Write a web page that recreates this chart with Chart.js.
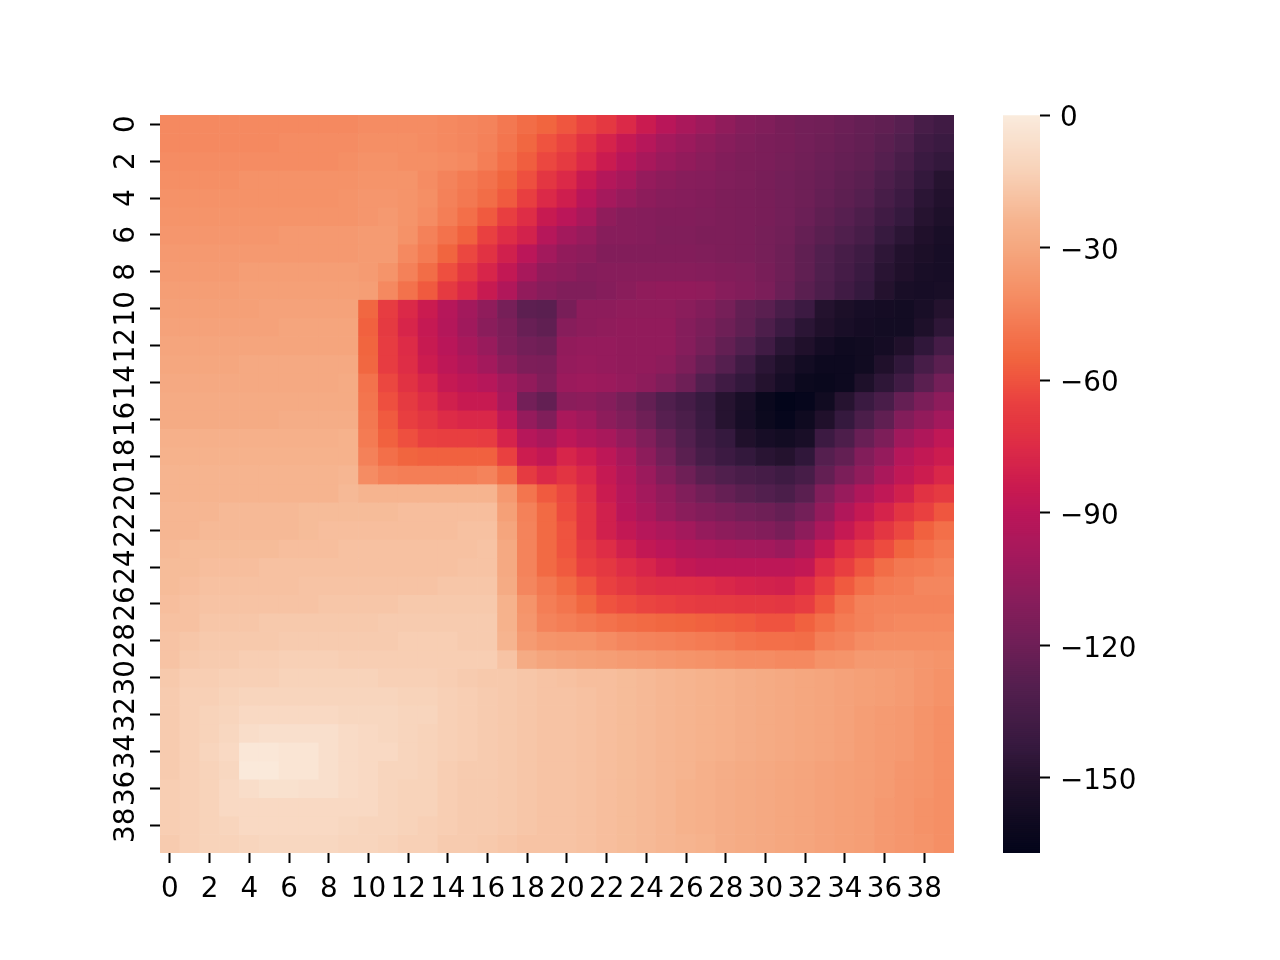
<!DOCTYPE html>
<html>
<head>
<meta charset="utf-8">
<title>Heatmap</title>
<script src="https://cdn.jsdelivr.net/npm/chart.js@4"></script>
<style>
    html, body { margin: 0; padding: 0; background: #fff; }
    #wrap { position: relative; width: 1280px; height: 960px; }
    #wrap canvas { position: absolute; left: 0; top: 0; }
</style>
</head>
<body>
<div id="wrap">
    <canvas id="heatCanvas" width="1280" height="960"></canvas>
    <canvas id="barCanvas" width="1280" height="960"></canvas>
</div>
<script>
// cell values, one row per y label, top row first
const xLabels = ['0','1','2','3','4','5','6','7','8','9','10','11','12','13','14','15','16','17','18','19','20','21','22','23','24','25','26','27','28','29','30','31','32','33','34','35','36','37','38','39'];
const xTickLabels = ['0','2','4','6','8','10','12','14','16','18','20','22','24','26','28','30','32','34','36','38'];
const yTickLabels = [0,2,4,6,8,10,12,14,16,18,20,22,24,26,28,30,32,34,36,38];
const colorTicks = [0,-30,-60,-90,-120,-150];
const valueMin = -167;
const valueMax = 0;
const heatRows = [
    [-42,-42,-42,-42,-42,-42,-42,-42,-42,-42,-41,-41,-41,-41,-42,-43,-44,-48,-52,-55,-59,-64,-69,-76,-84,-91,-97,-102,-107,-111,-113,-116,-118,-119,-121,-123,-125,-128,-135,-138],
    [-42,-42,-42,-42,-42,-42,-41,-41,-41,-41,-40,-40,-40,-41,-42,-43,-45,-49,-54,-60,-64,-72,-79,-86,-92,-99,-103,-107,-110,-113,-115,-116,-118,-120,-122,-124,-127,-131,-138,-141],
    [-41,-41,-41,-41,-41,-41,-41,-41,-41,-40,-39,-39,-40,-40,-41,-42,-46,-51,-57,-63,-68,-76,-84,-91,-98,-103,-106,-109,-112,-114,-115,-117,-119,-121,-123,-125,-129,-134,-141,-144],
    [-40,-40,-40,-40,-39,-39,-39,-39,-39,-39,-38,-38,-38,-41,-44,-47,-50,-55,-61,-70,-76,-85,-93,-98,-105,-108,-110,-111,-113,-114,-116,-118,-120,-122,-125,-127,-132,-137,-144,-149],
    [-39,-39,-39,-39,-39,-39,-39,-39,-39,-38,-37,-37,-38,-40,-45,-48,-52,-58,-66,-76,-82,-91,-99,-104,-108,-110,-111,-112,-114,-115,-116,-118,-120,-123,-126,-129,-135,-140,-147,-151],
    [-38,-38,-38,-38,-38,-38,-38,-38,-38,-38,-37,-36,-38,-41,-46,-51,-58,-66,-74,-85,-90,-97,-107,-110,-111,-112,-112,-113,-114,-115,-116,-118,-121,-125,-128,-132,-138,-143,-149,-153],
    [-37,-37,-37,-37,-37,-37,-36,-36,-36,-36,-35,-35,-39,-45,-50,-56,-65,-74,-80,-92,-100,-104,-110,-110,-111,-113,-113,-114,-114,-115,-117,-119,-123,-127,-131,-135,-142,-147,-152,-155],
    [-36,-36,-36,-36,-36,-36,-36,-36,-36,-36,-35,-35,-42,-47,-55,-63,-72,-81,-90,-100,-106,-108,-112,-112,-112,-112,-112,-113,-114,-115,-117,-120,-125,-130,-135,-139,-146,-151,-154,-156],
    [-35,-35,-35,-35,-34,-34,-34,-34,-34,-34,-35,-38,-45,-52,-61,-69,-78,-87,-98,-106,-108,-111,-110,-110,-110,-110,-110,-111,-112,-113,-116,-120,-125,-131,-136,-141,-148,-152,-155,-156],
    [-34,-34,-34,-34,-33,-33,-33,-33,-33,-33,-34,-42,-50,-58,-68,-76,-85,-94,-106,-110,-113,-113,-111,-109,-107,-106,-106,-107,-110,-112,-115,-121,-127,-132,-138,-143,-150,-155,-156,-155],
    [-33,-33,-33,-33,-33,-32,-32,-32,-32,-32,-54,-67,-76,-84,-92,-100,-107,-117,-126,-127,-116,-108,-108,-107,-107,-107,-109,-112,-117,-124,-127,-134,-140,-150,-154,-156,-157,-158,-155,-150],
    [-32,-32,-32,-32,-32,-32,-31,-31,-31,-31,-56,-68,-78,-86,-93,-101,-109,-114,-122,-125,-110,-108,-107,-106,-106,-106,-111,-115,-120,-125,-132,-140,-147,-152,-155,-157,-158,-158,-153,-146],
    [-31,-31,-31,-31,-31,-31,-31,-31,-31,-31,-55,-67,-75,-85,-91,-98,-104,-113,-118,-120,-106,-105,-105,-106,-106,-106,-111,-117,-124,-130,-138,-147,-152,-157,-160,-159,-157,-152,-145,-136],
    [-30,-30,-30,-30,-29,-29,-29,-29,-29,-29,-54,-67,-74,-83,-89,-94,-100,-108,-114,-115,-105,-104,-105,-106,-106,-108,-114,-122,-129,-138,-147,-153,-158,-161,-161,-159,-152,-145,-135,-127],
    [-29,-29,-29,-29,-29,-29,-29,-29,-29,-28,-50,-63,-72,-78,-86,-89,-92,-100,-106,-113,-103,-102,-103,-105,-108,-113,-120,-130,-138,-144,-150,-156,-162,-163,-161,-153,-146,-138,-127,-118],
    [-28,-28,-28,-28,-28,-28,-28,-28,-28,-28,-49,-61,-68,-74,-81,-85,-85,-97,-118,-124,-109,-108,-111,-117,-124,-131,-136,-142,-149,-155,-163,-167,-165,-159,-149,-141,-134,-123,-115,-108],
    [-28,-28,-28,-28,-28,-28,-27,-27,-27,-27,-48,-58,-66,-70,-75,-77,-77,-88,-105,-113,-97,-101,-108,-113,-120,-128,-133,-141,-149,-156,-162,-165,-160,-152,-143,-133,-125,-112,-106,-100],
    [-26,-26,-26,-26,-26,-26,-26,-26,-26,-25,-47,-56,-61,-65,-66,-66,-67,-79,-92,-97,-89,-94,-98,-105,-113,-122,-130,-138,-143,-152,-156,-158,-155,-140,-132,-122,-114,-101,-95,-88],
    [-25,-25,-25,-25,-25,-25,-25,-25,-25,-25,-45,-51,-55,-56,-56,-56,-56,-65,-83,-87,-78,-83,-89,-98,-108,-118,-127,-135,-140,-144,-148,-150,-145,-129,-124,-112,-105,-92,-87,-83],
    [-24,-24,-24,-24,-24,-24,-24,-24,-24,-23,-41,-45,-46,-46,-46,-46,-44,-52,-68,-76,-71,-77,-86,-94,-103,-112,-120,-127,-131,-134,-136,-139,-135,-124,-115,-107,-97,-88,-83,-77],
    [-24,-24,-24,-24,-24,-24,-24,-24,-24,-22,-24,-24,-24,-24,-24,-24,-24,-36,-49,-58,-63,-73,-84,-92,-100,-106,-113,-119,-123,-127,-130,-133,-127,-113,-104,-95,-88,-81,-72,-68],
    [-23,-23,-23,-22,-22,-22,-22,-21,-21,-21,-21,-21,-20,-20,-20,-20,-20,-33,-45,-53,-62,-71,-81,-91,-97,-104,-109,-112,-115,-118,-120,-123,-118,-106,-94,-86,-79,-71,-65,-59],
    [-23,-23,-22,-22,-22,-22,-22,-21,-20,-20,-20,-20,-20,-20,-20,-19,-19,-31,-44,-53,-60,-71,-81,-87,-92,-96,-100,-105,-108,-110,-112,-116,-108,-97,-86,-78,-70,-63,-56,-51],
    [-22,-21,-21,-21,-21,-21,-20,-20,-20,-19,-19,-19,-19,-19,-19,-19,-18,-29,-44,-53,-60,-68,-74,-81,-87,-90,-94,-96,-98,-99,-100,-103,-96,-85,-75,-68,-62,-55,-51,-48],
    [-21,-21,-20,-20,-20,-19,-19,-19,-19,-19,-19,-19,-19,-19,-19,-18,-18,-29,-44,-53,-58,-65,-69,-74,-78,-83,-87,-89,-89,-89,-89,-89,-87,-74,-66,-59,-52,-48,-47,-45],
    [-21,-20,-19,-19,-19,-19,-19,-18,-18,-18,-18,-18,-18,-18,-17,-17,-17,-28,-43,-48,-53,-59,-65,-69,-73,-74,-74,-75,-77,-79,-80,-81,-75,-65,-58,-51,-47,-46,-43,-43],
    [-20,-19,-18,-18,-18,-18,-18,-18,-17,-17,-17,-17,-16,-16,-16,-16,-16,-25,-38,-46,-49,-54,-60,-62,-64,-65,-67,-68,-68,-69,-69,-70,-67,-59,-50,-45,-44,-44,-44,-44],
    [-19,-19,-17,-17,-17,-16,-16,-16,-16,-16,-16,-15,-15,-15,-15,-15,-15,-25,-37,-44,-46,-48,-50,-52,-53,-54,-55,-56,-57,-58,-60,-60,-56,-51,-47,-45,-43,-42,-42,-42],
    [-18,-17,-16,-16,-16,-16,-15,-15,-15,-15,-15,-15,-14,-14,-14,-15,-15,-24,-35,-38,-39,-39,-41,-43,-44,-45,-46,-47,-48,-50,-51,-51,-52,-46,-44,-41,-40,-40,-40,-40],
    [-18,-16,-15,-15,-14,-14,-13,-13,-13,-14,-14,-14,-14,-14,-14,-14,-14,-18,-28,-31,-32,-33,-34,-35,-36,-37,-38,-39,-40,-41,-41,-42,-42,-39,-38,-36,-36,-36,-37,-38],
    [-16,-14,-14,-13,-13,-13,-12,-12,-12,-12,-12,-13,-13,-13,-14,-15,-16,-16,-17,-18,-19,-20,-20,-21,-22,-23,-24,-25,-26,-27,-28,-29,-30,-31,-32,-33,-34,-35,-37,-39],
    [-15,-13,-13,-12,-11,-11,-11,-11,-11,-11,-11,-11,-12,-12,-13,-14,-15,-16,-17,-18,-18,-19,-20,-21,-22,-23,-24,-25,-26,-27,-28,-29,-30,-31,-32,-33,-34,-35,-37,-39],
    [-15,-13,-12,-11,-9,-9,-9,-9,-9,-10,-10,-10,-11,-11,-13,-14,-15,-16,-17,-18,-18,-19,-20,-21,-22,-23,-24,-25,-26,-27,-28,-29,-30,-31,-32,-34,-35,-36,-38,-40],
    [-15,-13,-12,-10,-7,-6,-6,-6,-6,-8,-9,-10,-11,-12,-13,-14,-15,-16,-17,-18,-18,-19,-20,-21,-22,-23,-24,-25,-26,-27,-28,-29,-30,-31,-32,-34,-35,-36,-38,-40],
    [-15,-13,-11,-9,-2,-2,-3,-3,-6,-8,-9,-9,-11,-12,-13,-14,-15,-16,-17,-18,-18,-19,-20,-21,-22,-23,-24,-25,-26,-27,-28,-29,-30,-31,-32,-34,-35,-36,-38,-40],
    [-15,-13,-12,-10,-1,-1,-3,-3,-6,-8,-9,-11,-11,-12,-14,-15,-15,-16,-17,-18,-18,-19,-20,-21,-22,-23,-24,-26,-27,-28,-29,-30,-31,-32,-33,-34,-35,-37,-38,-40],
    [-14,-13,-12,-9,-7,-5,-5,-6,-6,-8,-9,-11,-12,-12,-14,-15,-15,-16,-17,-18,-18,-19,-20,-21,-22,-23,-25,-26,-27,-28,-29,-30,-31,-32,-33,-34,-35,-37,-38,-40],
    [-14,-13,-12,-9,-9,-9,-9,-9,-9,-9,-9,-11,-12,-12,-14,-15,-15,-16,-17,-18,-18,-19,-20,-21,-22,-23,-25,-26,-27,-28,-29,-30,-31,-32,-33,-34,-36,-37,-39,-40],
    [-14,-13,-12,-11,-9,-9,-9,-9,-9,-10,-11,-11,-12,-13,-14,-15,-15,-16,-17,-18,-18,-19,-20,-21,-22,-23,-25,-26,-27,-28,-29,-30,-31,-32,-33,-34,-36,-37,-39,-40],
    [-15,-13,-12,-12,-11,-10,-10,-10,-10,-11,-11,-12,-13,-13,-15,-15,-16,-17,-18,-18,-18,-19,-20,-21,-22,-23,-24,-25,-27,-28,-29,-30,-31,-32,-33,-34,-36,-37,-38,-40]
];
// rocket colormap, stops taken from the colorbar [t, r, g, b]
const rocketStops = [
    [0,3,5,26],[0.042,15,10,32],[0.102,36,18,46],[0.143,53,25,62],[0.222,82,31,78],[0.286,112,31,87],
    [0.341,135,29,91],[0.401,163,25,92],[0.461,187,22,89],[0.5,203,27,79],[0.551,221,43,71],[0.571,225,51,66],
    [0.611,233,64,64],[0.641,239,83,63],[0.671,241,101,63],[0.701,243,114,76],[0.76,245,143,101],[0.82,245,167,127],
    [0.857,246,180,143],[0.928,248,211,186],[1,250,235,221]
];

function rocketColor(value) {
    var t = (value - valueMin) / (valueMax - valueMin);
    t = Math.max(0, Math.min(1, t));
    for (var i = 1; i < rocketStops.length; i++) {
        if (t <= rocketStops[i][0]) {
            var a = rocketStops[i - 1], b = rocketStops[i];
            var f = (t - a[0]) / (b[0] - a[0]);
            return 'rgb(' + Math.round(a[1] + (b[1] - a[1]) * f) + ',' + Math.round(a[2] + (b[2] - a[2]) * f) + ',' + Math.round(a[3] + (b[3] - a[3]) * f) + ')';
        }
    }
    return 'rgb(250,235,221)';
}

const tickFont = { family: '"DejaVu Sans"', size: 27.8 };

// each row is one stack level, height 1, coloured by its value
const heatDatasets = heatRows.map(function (row) {
    return {
        data: row.map(function () { return 1; }),
        backgroundColor: row.map(rocketColor),
        borderWidth: 0,
        barPercentage: 1,
        categoryPercentage: 1
    };
});

new Chart(document.getElementById('heatCanvas'), {
    type: 'bar',
    data: { labels: xLabels, datasets: heatDatasets },
    options: {
        responsive: false,
        animation: false,
        layout: { padding: { left: 0, top: 115, right: 326, bottom: 0 } },
        plugins: { legend: { display: false }, tooltip: { enabled: false } },
        scales: {
            x: {
                stacked: true,
                border: { display: false },
                grid: { offset: false, drawOnChartArea: false, tickLength: 10, tickWidth: 2, tickColor: '#000' },
                ticks: { color: '#000', font: tickFont, padding: 10, autoSkip: false, maxRotation: 0 },
                afterBuildTicks: function (scale) {
                    scale.ticks = scale.ticks.filter(function (t) { return xTickLabels.indexOf(xLabels[t.value]) >= 0; });
                },
                afterFit: function (scale) { scale.height = 107; }
            },
            y: {
                stacked: true,
                reverse: true,
                min: 0,
                max: heatRows.length,
                border: { display: false },
                grid: { drawOnChartArea: false, tickLength: 10, tickWidth: 2, tickColor: '#000' },
                ticks: {
                    color: '#000', font: tickFont, padding: 6, autoSkip: false,
                    minRotation: 90, maxRotation: 90, crossAlign: 'center',
                    callback: function (v) { return String(v - 0.5); }
                },
                afterBuildTicks: function (scale) {
                    scale.ticks = yTickLabels.map(function (v) { return { value: v + 0.5 }; });
                },
                afterFit: function (scale) { scale.width = 160; }
            }
        }
    }
});

// colorbar, thin stacked slices on a linear axis
var barDatasets = [];
var barSlices = 369;
for (var s = 0; s < barSlices; s++) {
    barDatasets.push({
        data: [valueMin / barSlices],
        backgroundColor: rocketColor(valueMax + (s + 0.5) * valueMin / barSlices),
        borderWidth: 0,
        barPercentage: 1,
        categoryPercentage: 1
    });
}

new Chart(document.getElementById('barCanvas'), {
    type: 'bar',
    data: { labels: [''], datasets: barDatasets },
    options: {
        responsive: false,
        animation: false,
        layout: { padding: { left: 1003, top: 115, right: 0, bottom: 107 } },
        plugins: { legend: { display: false }, tooltip: { enabled: false } },
        scales: {
            x: { stacked: true, display: false },
            y: {
                stacked: true,
                position: 'right',
                min: valueMin,
                max: valueMax,
                border: { display: false },
                grid: { drawOnChartArea: false, tickLength: 10, tickWidth: 2, tickColor: '#000' },
                ticks: {
                    color: '#000', padding: 10,
                    // empty first line pushes the digits down 4px onto the tick
                    font: { family: tickFont.family, size: tickFont.size, lineHeight: 8 / 27.8 },
                    callback: function (v) { return ['', v < 0 ? '\u2212' + Math.abs(v) : String(v)]; }
                },
                afterBuildTicks: function (scale) {
                    scale.ticks = colorTicks.map(function (v) { return { value: v }; });
                },
                afterFit: function (scale) { scale.width = 240; }
            }
        }
    }
});
</script>
</body>
</html>
